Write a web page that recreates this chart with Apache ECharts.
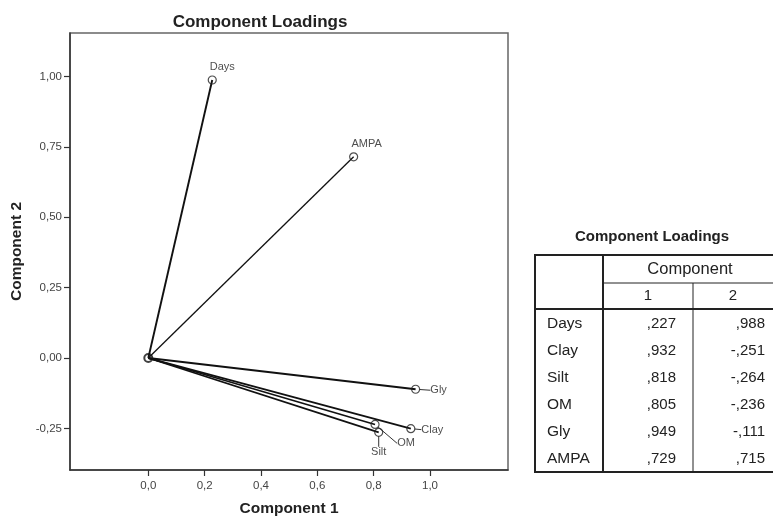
<!DOCTYPE html>
<html>
<head>
<meta charset="utf-8">
<script src="https://cdn.jsdelivr.net/npm/echarts@6/dist/echarts.min.js"></script>
<style>
html,body{margin:0;padding:0;background:#fff;}
#chart{width:773px;height:517px;}
</style>
</head>
<body>
<div id="chart"></div>
<script>
// ---- data ----
const variables = ['Days', 'Clay', 'Silt', 'OM', 'Gly', 'AMPA'];
const comp1 = [0.227, 0.932, 0.818, 0.805, 0.949, 0.729];
const comp2 = [0.988, -0.251, -0.264, -0.236, -0.111, 0.715];
const xTicks = [0, 0.2, 0.4, 0.6, 0.8, 1.0];
const yTicks = [-0.25, 0, 0.25, 0.5, 0.75, 1.0];
const tableColumns = ['1', '2'];

// ---- styling / placement (not data) ----
const FONT = "'Liberation Sans', Arial, sans-serif";
const labelOffsets = {Days: [10, -13], AMPA: [13, -12.5], Gly: [23, 1], Clay: [21.5, 1], OM: [31, 19], Silt: [0, 20]};
const labelLeader = {Days: false, AMPA: false, Gly: true, Clay: true, OM: true, Silt: true};
const lineWidths = {Days: 1.9, AMPA: 1.3, Gly: 1.8, Clay: 1.8, OM: 1.6, Silt: 1.8};

function fmtComma(v, d) { return v.toFixed(d).replace('.', ','); }
function fmtSpss(v) { return (v < 0 ? '-' : '') + ',' + Math.abs(v).toFixed(3).split('.')[1]; }

const chart = echarts.init(document.getElementById('chart'), null, {renderer: 'canvas'});

const series = [];
variables.forEach((name, i) => {
  series.push({
    type: 'line',
    name: name,
    data: [[0, 0], [comp1[i], comp2[i]]],
    symbol: 'none',
    silent: true,
    animation: false,
    lineStyle: {color: '#111', width: lineWidths[name]},
    z: 2
  });
});
// origin marker
series.push({
  type: 'scatter',
  data: [[0, 0]],
  symbol: 'circle',
  symbolSize: 8,
  animation: false,
  itemStyle: {color: 'rgba(0,0,0,0)', borderColor: '#111', borderWidth: 2},
  z: 3
});
// endpoints with labels
series.push({
  type: 'scatter',
  animation: false,
  data: variables.map((name, i) => ({
    name: name,
    value: [comp1[i], comp2[i]],
    labelLine: {show: labelLeader[name]}
  })),
  symbol: 'circle',
  symbolSize: 8,
  itemStyle: {color: 'rgba(0,0,0,0)', borderColor: '#222', borderWidth: 1.2},
  label: {
    show: true,
    position: 'inside',
    formatter: p => p.name,
    color: '#222',
    fontSize: 11,
    fontFamily: FONT
  },
  labelLine: {show: true, lineStyle: {color: '#333', width: 1}},
  labelLayout: function (params) {
    const name = variables[params.dataIndex];
    const o = labelOffsets[name] || [0, 0];
    return {dx: o[0], dy: o[1]};
  },
  z: 4
});

// ---- table (graphic) ----
const T = {left: 535, right: 773, top: 255, headerMid: 283, headerBottom: 309, rowH: 27, colLabel: 603, colMid: 693,
  labelX: 547, val1X: 676, val2X: 765};
const tBottom = T.headerBottom + T.rowH * variables.length + 1;
const g = [];
function hline(x1, x2, y, w) { g.push({type: 'line', shape: {x1: x1, y1: y, x2: x2, y2: y}, style: {stroke: '#222', lineWidth: w}, silent: true}); }
function vline(x, y1, y2, w) { g.push({type: 'line', shape: {x1: x, y1: y1, x2: x, y2: y2}, style: {stroke: '#222', lineWidth: w}, silent: true}); }
function txt(s, x, y, align, font) {
  g.push({type: 'text', x: 0, y: 0, silent: true,
    style: {text: s, x: x, y: y, align: align, textAlign: align, verticalAlign: 'middle', textVerticalAlign: 'middle', fill: '#222', font: font}});
}
txt('Component Loadings', 652, 237, 'center', 'bold 15px ' + FONT);
hline(T.left - 1, T.right + 2, T.top, 2);
hline(T.left - 1, T.right + 2, tBottom, 2);
vline(T.left, T.top, tBottom, 2);
vline(T.colLabel, T.top, tBottom, 2);
hline(T.colLabel, T.right + 2, T.headerMid, 1);
hline(T.left, T.right + 2, T.headerBottom, 2);
vline(T.colMid, T.headerMid, tBottom, 1);
txt('Component', 690, 269, 'center', '16.5px ' + FONT);
txt(tableColumns[0], (T.colLabel + T.colMid) / 2, 296, 'center', '15px ' + FONT);
txt(tableColumns[1], (T.colMid + T.right) / 2, 296, 'center', '15px ' + FONT);
variables.forEach((name, i) => {
  const y = T.headerBottom + T.rowH * i + T.rowH / 2 + 1;
  txt(name, T.labelX, y, 'left', '15.5px ' + FONT);
  txt(fmtSpss(comp1[i]), T.val1X, y, 'right', '15px ' + FONT);
  txt(fmtSpss(comp2[i]), T.val2X, y, 'right', '15px ' + FONT);
});

const option = {
  backgroundColor: '#fff',
  animation: false,
  title: {
    text: 'Component Loadings',
    left: 255,
    textAlign: 'center',
    top: 9,
    textStyle: {fontFamily: FONT, fontSize: 17, fontWeight: 'bold', color: '#222'}
  },
  grid: {
    left: 70, right: 265, top: 33, bottom: 47,
    outerBoundsMode: 'none',
    containLabel: false,
    show: true, borderColor: '#666', borderWidth: 1.5, backgroundColor: 'transparent'
  },
  xAxis: {
    type: 'value',
    min: -0.278, max: 1.277,
    name: 'Component 1',
    nameLocation: 'middle',
    nameGap: 31,
    nameTextStyle: {fontFamily: FONT, fontSize: 15.5, fontWeight: 'bold', color: '#222'},
    axisLine: {show: true, onZero: false, lineStyle: {color: '#333', width: 1.5}},
    axisTick: {show: true, inside: false, length: 6, customValues: xTicks, lineStyle: {color: '#333', width: 1.2}},
    axisLabel: {show: true, customValues: xTicks, margin: 10, fontFamily: FONT, fontSize: 11.5, color: '#444',
      formatter: v => fmtComma(v, 1)},
    splitLine: {show: false}
  },
  yAxis: {
    type: 'value',
    min: -0.398, max: 1.155,
    name: 'Component 2',
    nameLocation: 'middle',
    nameGap: 42,
    nameTextStyle: {fontFamily: FONT, fontSize: 15.5, fontWeight: 'bold', color: '#222'},
    axisLine: {show: true, onZero: false, lineStyle: {color: '#333', width: 1.5}},
    axisTick: {show: true, inside: false, length: 6, customValues: yTicks, lineStyle: {color: '#333', width: 1.2}},
    axisLabel: {show: true, customValues: yTicks, margin: 8, fontFamily: FONT, fontSize: 11.5, color: '#444',
      formatter: v => fmtComma(v, 2)},
    splitLine: {show: false}
  },
  series: series,
  graphic: {elements: g}
};
chart.setOption(option);
</script>
</body>
</html>
